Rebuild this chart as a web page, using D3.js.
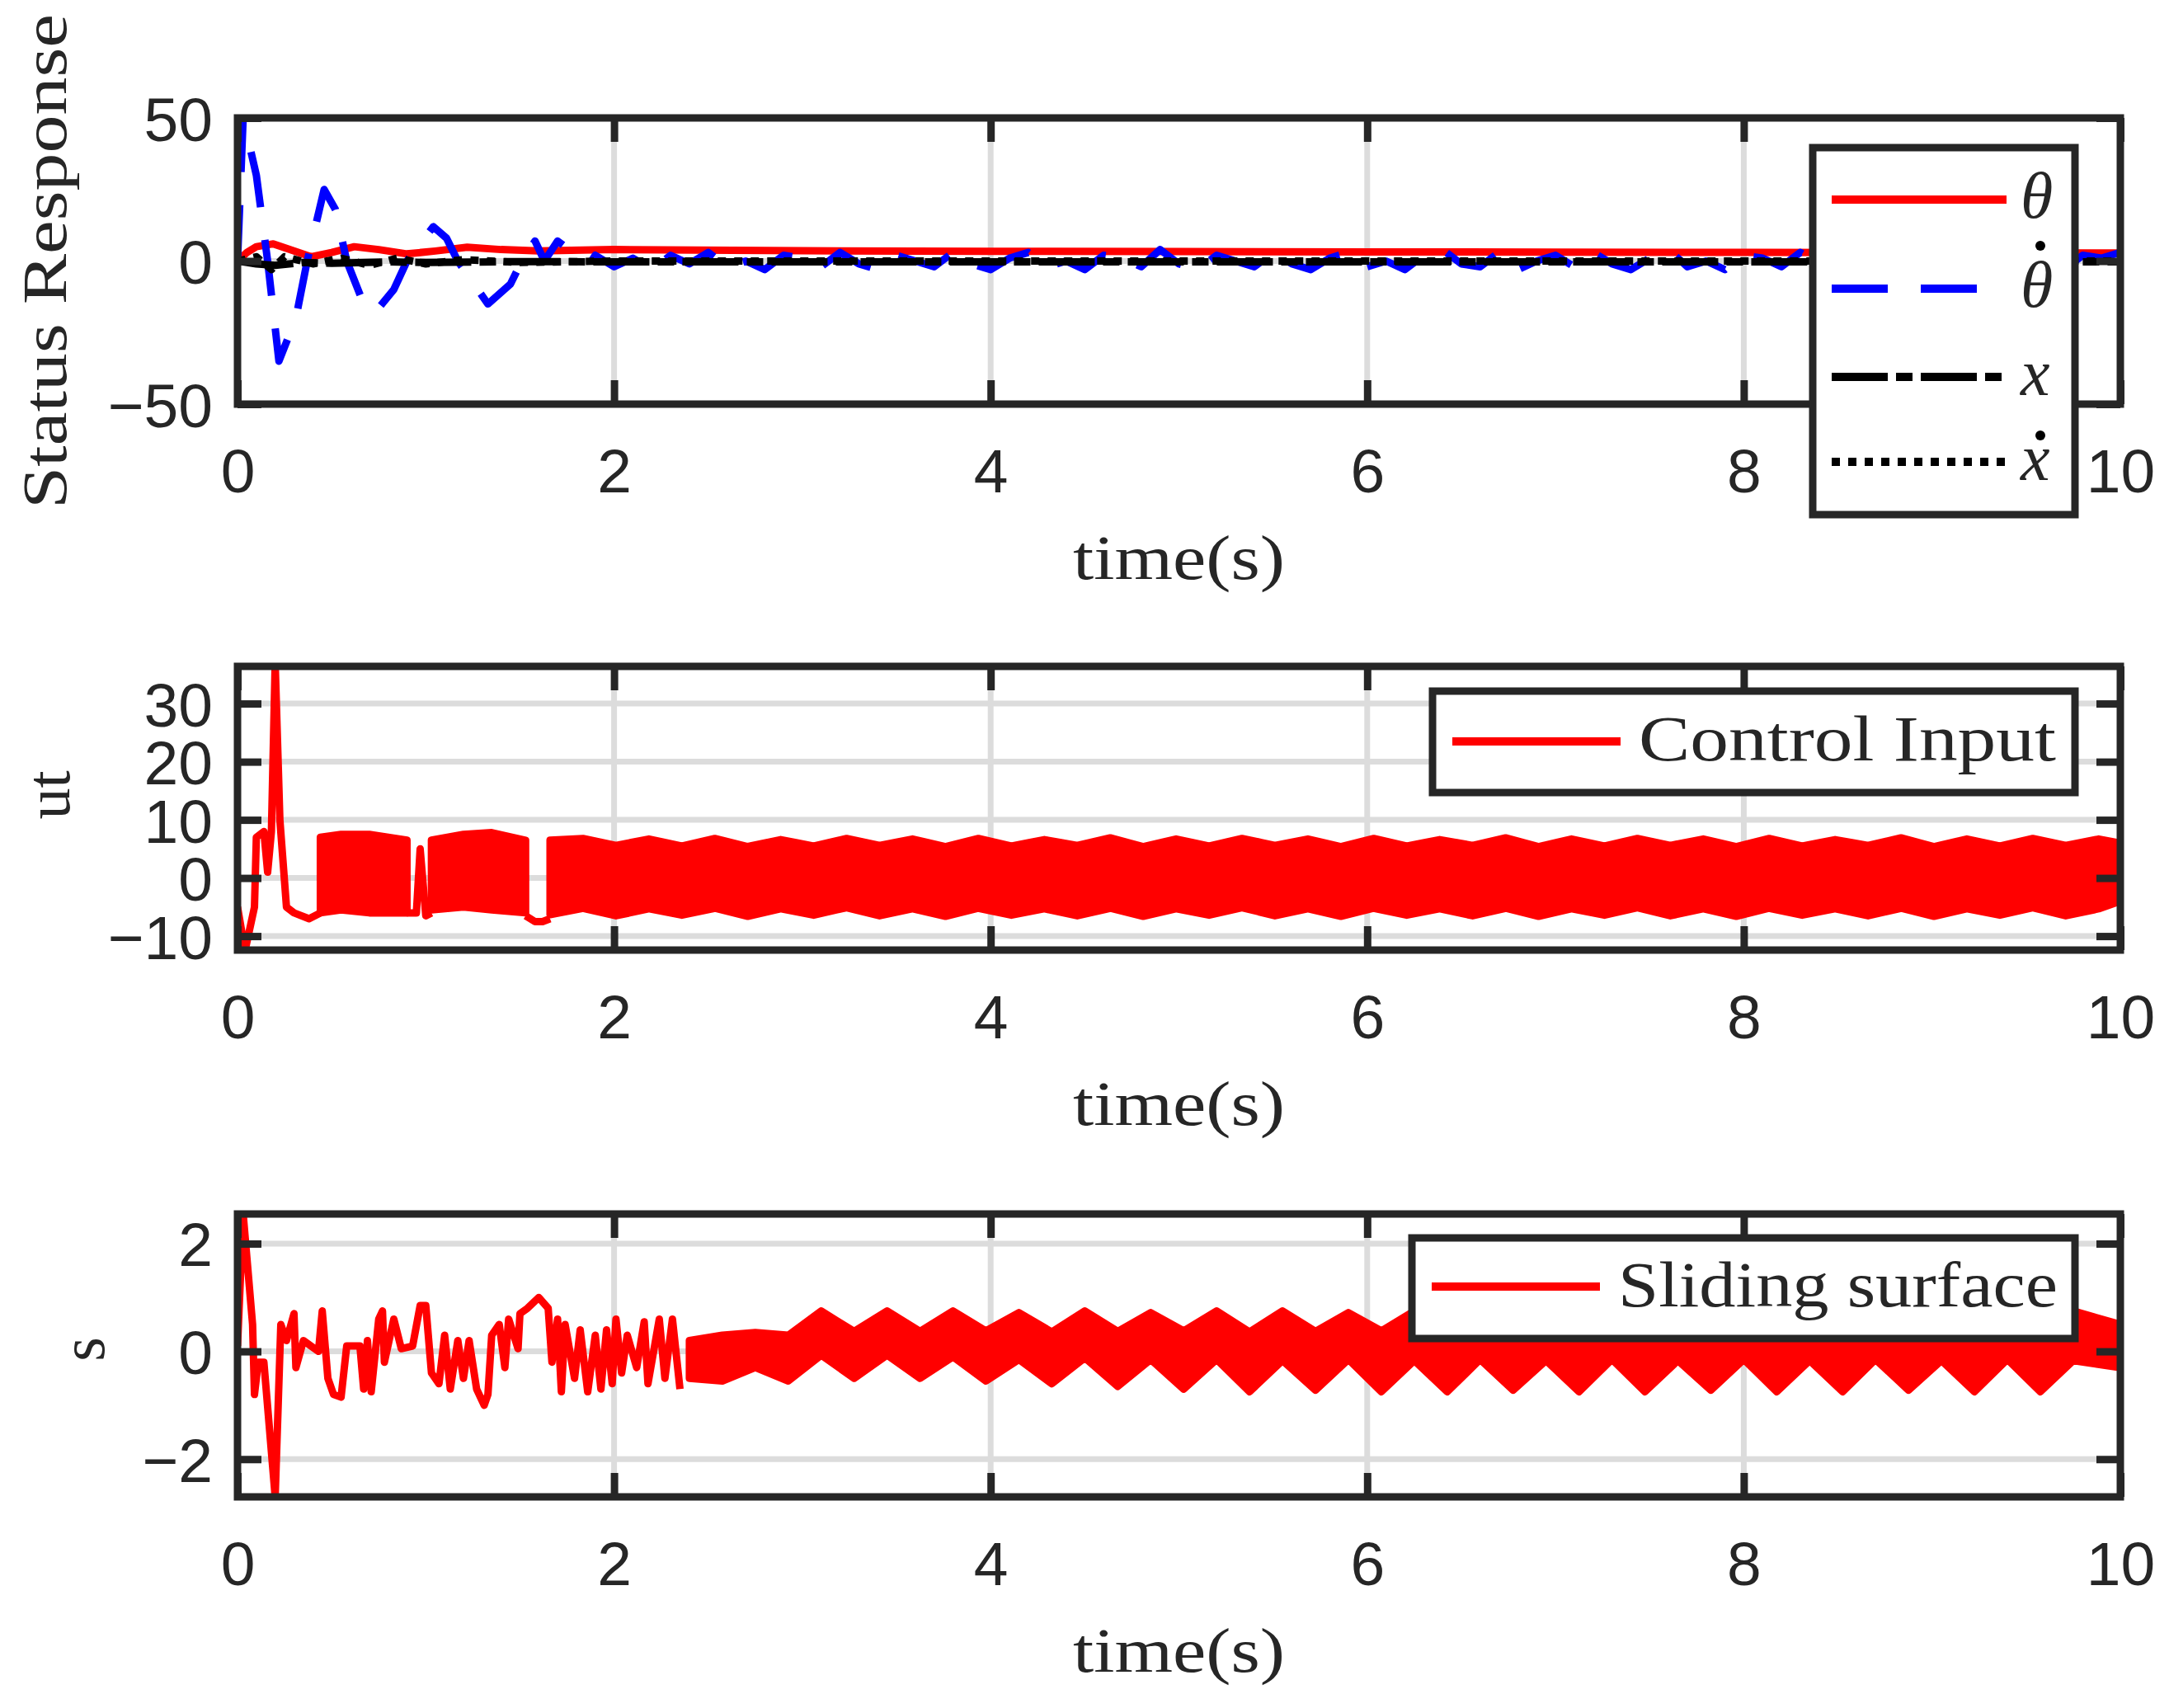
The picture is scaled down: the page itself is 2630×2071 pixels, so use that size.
<!DOCTYPE html>
<html>
<head>
<meta charset="utf-8">
<script src="https://cdn.jsdelivr.net/npm/d3@7"></script>
<style>
  body { margin: 0; background: #fff; }
  .tick text { font-family: "Liberation Sans", Arial, sans-serif; font-size: 75px; fill: #262626; }
  .lab { font-family: "Liberation Serif", "DejaVu Serif", serif; fill: #262626; }
</style>
</head>
<body>
<svg width="2630" height="2071"></svg>
<script>
// ---- data ----
var xTicks = [0, 2, 4, 6, 8, 10];

// panel 1: state response
var thetaT = [0, 0.05, 0.1, 0.19, 0.3, 0.39, 0.5, 0.62, 0.75, 0.9, 1.05, 1.22, 1.4, 1.6, 2, 3, 4, 5, 6, 7, 8, 9, 10];
var thetaV = [0, 3, 5, 6, 3.5, 1.5, 3, 5, 4, 2.5, 3.5, 4.8, 4, 3.5, 4, 3.6, 3.4, 3.3, 3.2, 3.1, 3, 2.9, 2.8];

var thdT = [0, 0.03, 0.1, 0.16, 0.22, 0.31, 0.37, 0.46, 0.52, 0.58, 0.67, 0.73, 0.83, 0.9, 1.04, 1.11, 1.17, 1.33, 1.45, 1.51, 1.58, 1.63, 1.7, 1.78, 1.88];
var thdV = [0, 50, 30, 0, -35, -20, 0, 25, 18, 0, -15, -18, -10, 0, 12, 8, 0, -15, -8, 0, 7, 0, 7, 3, 0];
// jitter after ~1.9 s, every 0.1 s from 1.9 to 10
var thdNoise = [2, -2, 1, -3, 2, -1, 3, -2, 0, -3, 2, 1, -2, 3, -1, -3, 2, 0, -2, 3,
                -1, -3, 1, 3, -2, 0, -3, 2, 1, -2, 4, -1, -3, 2, 0, -2, 3, -1, -3, 1,
                3, -2, 0, -3, 2, 4, -1, -2, 3, -3, 0, 2, -2, 3, -1, -3, 1, 4, -2, 0,
                -3, 2, 1, -2, 3, -1, -3, 2, 0, -2, 3, 1, -3, 2, -1, -2, 3, 0, -3, 2, 1, 3];

var xT = [0, 0.1, 0.2, 0.35, 0.5, 0.8, 1.0, 1.5, 2, 10];
var xV = [0, -1, -1.5, -0.5, -0.8, -0.3, -0.5, -0.2, -0.3, -0.3];
var xdT = [0, 0.1, 0.18, 0.25, 0.4, 0.55, 0.7, 0.85, 1.0, 1.2, 1.5, 2, 10];
var xdV = [0, 1.5, -3, 1.5, -1, 1, -1.5, 1, -1, 0.5, -0.5, 0, 0];

// panel 2: control input
var utT = [0, 0.04, 0.09, 0.1, 0.12, 0.14, 0.16, 0.18, 0.2, 0.225, 0.26, 0.3, 0.38, 0.44];
var utV = [-5, -12.5, -5, 7, 7.5, 8, 1, 8, 37, 10, -5, -6, -7, -6];
var utMidT = [0.9, 0.92, 0.95, 0.97, 1.0, 1.03];
var utMidV = [-6, -6, -6, 5, -6.5, -6];
var utTailT = [1.53, 1.58, 1.62, 1.66];
var utTailV = [-6.5, -7.5, -7.5, -7];
// switching bands (upper / lower edge)
var utBand1T = [0.44, 0.55, 0.7, 0.9];
var utBand1Hi = [7, 7.5, 7.5, 6.5];
var utBand1Lo = [-6, -5.5, -6, -6];
var utBand2T = [1.03, 1.2, 1.35, 1.53];
var utBand2Hi = [6.5, 7.5, 7.8, 6.5];
var utBand2Lo = [-5.5, -5, -5.5, -6];
var utBandT = d3.range(1.66, 9.9, 0.175).concat([10]);
var utBandHi = [6.5, 6.8, 5.6, 6.7, 5.5, 6.8, 5.4, 6.6, 5.5, 6.8, 5.6, 6.7, 5.4, 6.8, 5.5, 6.6,
                5.6, 6.9, 5.4, 6.7, 5.5, 6.8, 5.6, 6.7, 5.4, 6.8, 5.5, 6.6, 5.6, 6.9, 5.4, 6.7,
                5.5, 6.8, 5.6, 6.7, 5.4, 6.8, 5.5, 6.6, 5.6, 6.9, 5.4, 6.7, 5.5, 6.8, 5.6, 6.7, 6.0];
var utBandLo = [-6.3, -5.2, -6.5, -5.3, -6.4, -5.2, -6.6, -5.3, -6.4, -5.1, -6.5, -5.3, -6.6, -5.2, -6.4, -5.3,
                -6.5, -5.2, -6.6, -5.3, -6.4, -5.1, -6.5, -5.3, -6.6, -5.2, -6.4, -5.3, -6.5, -5.2, -6.6, -5.3,
                -6.4, -5.1, -6.5, -5.3, -6.6, -5.2, -6.4, -5.3, -6.5, -5.2, -6.6, -5.3, -6.4, -5.1, -6.5, -5.3, -4.0];

// panel 3: sliding surface
var sT = [0, 0.03, 0.08, 0.09, 0.11, 0.14, 0.2, 0.23, 0.26, 0.3, 0.31, 0.35, 0.43, 0.45, 0.48, 0.51, 0.55,
          0.58, 0.65, 0.67, 0.69, 0.71, 0.75, 0.77, 0.78, 0.83, 0.87, 0.93, 0.97, 1.0, 1.03, 1.07, 1.1,
          1.13, 1.17, 1.2, 1.23, 1.27, 1.31, 1.33, 1.35, 1.39, 1.42, 1.44, 1.49, 1.5, 1.54, 1.6, 1.65,
          1.67, 1.7, 1.72, 1.74, 1.79, 1.82, 1.86, 1.9, 1.93, 1.96, 1.99, 2.01, 2.04, 2.07, 2.12, 2.16,
          2.18, 2.24, 2.27, 2.31, 2.35];
var sV = [0.1, 2.55, 0.5, -0.8, -0.2, -0.2, -2.7, 0.5, 0.2, 0.7, -0.3, 0.2, 0, 0.75, -0.5, -0.8, -0.85,
          0.1, 0.1, -0.7, 0.2, -0.75, 0.6, 0.75, -0.2, 0.6, 0.05, 0.1, 0.85, 0.85, -0.4, -0.6, 0.3,
          -0.7, 0.2, -0.5, 0.2, -0.7, -1.0, -0.8, 0.3, 0.5, -0.3, 0.6, 0.05, 0.7, 0.8, 1.0, 0.8,
          -0.2, 0.6, -0.75, 0.5, -0.5, 0.4, -0.75, 0.3, -0.7, 0.4, -0.6, 0.6, -0.4, 0.3, -0.3, 0.55,
          -0.6, 0.6, -0.5, 0.6, -0.7];
var sBandT = d3.range(2.4, 9.9, 0.175).concat([10]);
var sBandHi = [0.2, 0.3, 0.35, 0.3, 0.75, 0.37, 0.75, 0.37, 0.75, 0.38, 0.72, 0.36, 0.75, 0.37, 0.72, 0.38,
               0.75, 0.36, 0.75, 0.37, 0.72, 0.38, 0.75, 0.36, 0.72, 0.37, 0.75, 0.38, 0.75, 0.36, 0.72, 0.37,
               0.75, 0.38, 0.72, 0.36, 0.75, 0.37, 0.75, 0.38, 0.72, 0.36, 0.75, 0.5];
var sBandLo = [-0.5, -0.55, -0.3, -0.55, -0.07, -0.5, -0.07, -0.5, -0.1, -0.55, -0.15, -0.6, -0.12, -0.65, -0.15, -0.7,
               -0.15, -0.75, -0.17, -0.72, -0.15, -0.75, -0.17, -0.75, -0.15, -0.72, -0.17, -0.75, -0.15, -0.75, -0.17, -0.72,
               -0.15, -0.75, -0.17, -0.75, -0.15, -0.72, -0.17, -0.75, -0.15, -0.75, -0.17, -0.3];

// ---- layout ----
var svg = d3.select("svg");
var L = 288, R = 2571;
var ink = "#262626";
var x = d3.scaleLinear().domain([0, 10]).range([L, R]);
var fmt = function(d) { return String(d).replace("-", "\u2212"); };

function panel(top, bottom, ydom, yticks, id) {
  var y = d3.scaleLinear().domain(ydom).range([bottom, top]);
  var g = svg.append("g");
  // grid
  g.append("g").selectAll("line").data(xTicks.slice(1, -1)).enter().append("line")
    .attr("x1", x).attr("x2", x).attr("y1", top).attr("y2", bottom)
    .attr("stroke", "#dcdcdc").attr("stroke-width", 7);
  g.append("g").selectAll("line").data(yticks).enter().append("line")
    .attr("x1", L).attr("x2", R).attr("y1", y).attr("y2", y)
    .attr("stroke", "#dcdcdc").attr("stroke-width", 7);
  svg.append("clipPath").attr("id", id).append("rect")
    .attr("x", L).attr("y", top).attr("width", R - L).attr("height", bottom - top);
  var data = g.append("g").attr("clip-path", "url(#" + id + ")");
  return { y: y, g: g, data: data, top: top, bottom: bottom, yticks: yticks };
}

function frame(p) {
  var g = svg.append("g");
  g.append("g").attr("transform", "translate(0," + p.bottom + ")")
    .call(d3.axisBottom(x).tickValues(xTicks).tickSize(-29).tickPadding(80).tickFormat(fmt));
  g.append("g").attr("transform", "translate(0," + p.top + ")")
    .call(d3.axisTop(x).tickValues(xTicks).tickSize(-29).tickFormat(""));
  g.append("g").attr("transform", "translate(" + L + ",0)")
    .call(d3.axisLeft(p.y).tickValues(p.yticks).tickSize(-29).tickPadding(30).tickFormat(fmt));
  g.append("g").attr("transform", "translate(" + R + ",0)")
    .call(d3.axisRight(p.y).tickValues(p.yticks).tickSize(-29).tickFormat(""));
  g.selectAll(".domain").remove();
  g.selectAll(".tick line").attr("stroke", ink).attr("stroke-width", 9);
  g.selectAll(".tick text").attr("dy", "0.36em");
  g.append("rect").attr("x", L).attr("y", p.top).attr("width", R - L).attr("height", p.bottom - p.top)
    .attr("fill", "none").attr("stroke", ink).attr("stroke-width", 9);
  svg.append("text").attr("class", "lab").attr("x", (L + R) / 2).attr("y", p.bottom + 212)
    .attr("text-anchor", "middle").attr("font-size", 76)
    .attr("textLength", 257).attr("lengthAdjust", "spacingAndGlyphs").text("time(s)");
}

function zip(t, v) { return t.map(function(d, i) { return [d, v[i]]; }); }
function lineIn(p, pts, color, dash) {
  var ln = d3.line().x(function(d) { return x(d[0]); }).y(function(d) { return p.y(d[1]); });
  p.data.append("path").attr("d", ln(pts)).attr("fill", "none").attr("stroke", color)
    .attr("stroke-width", 9).attr("stroke-linejoin", "round")
    .attr("stroke-dasharray", dash || null);
}
function bandIn(p, t, hi, lo, color) {
  var ar = d3.area().x(function(d) { return x(d[0]); })
    .y0(function(d) { return p.y(d[2]); }).y1(function(d) { return p.y(d[1]); });
  var pts = t.map(function(d, i) { return [d, hi[i], lo[i]]; });
  p.data.append("path").attr("d", ar(pts)).attr("fill", color)
    .attr("stroke", color).attr("stroke-width", 9).attr("stroke-linejoin", "round");
}

// ---- panel 1 ----
var p1 = panel(143, 490, [-50, 50], [-50, 0, 50], "c1");
var thdAll = zip(thdT, thdV).concat(thdNoise.map(function(v, i) { return [1.9 + i * 0.1, v]; }));
lineIn(p1, zip(thetaT, thetaV), "#ff0000");
lineIn(p1, thdAll, "#0000ff", "68,40");
lineIn(p1, zip(xT, xV), "#000000", "68,10,20,10");
lineIn(p1, zip(xdT, xdV), "#000000", "10,10");
frame(p1);

// ---- panel 2 ----
var p2 = panel(808, 1152, [-12.4, 36.4], [-10, 0, 10, 20, 30], "c2");
lineIn(p2, zip(utT, utV), "#ff0000");
bandIn(p2, utBand1T, utBand1Hi, utBand1Lo, "#ff0000");
lineIn(p2, zip(utMidT, utMidV), "#ff0000");
bandIn(p2, utBand2T, utBand2Hi, utBand2Lo, "#ff0000");
lineIn(p2, zip(utTailT, utTailV), "#ff0000");
bandIn(p2, utBandT, utBandHi, utBandLo, "#ff0000");
frame(p2);

// ---- panel 3 ----
var p3 = panel(1472, 1815, [-2.7, 2.55], [-2, 0, 2], "c3");
lineIn(p3, zip(sT, sV), "#ff0000");
bandIn(p3, sBandT, sBandHi, sBandLo, "#ff0000");
frame(p3);

// ---- y labels ----
function ylab(txt, cx, cy, len) {
  var t = svg.append("text").attr("class", "lab").attr("font-size", 76)
    .attr("text-anchor", "middle").attr("transform", "translate(" + cx + "," + cy + ") rotate(-90)").text(txt);
  if (len) t.attr("textLength", len).attr("lengthAdjust", "spacingAndGlyphs");
}
ylab("Status Response", 80, 317, 600);
ylab("ut", 84, 964);
ylab("s", 126, 1636);

// ---- legends ----
function legBox(x0, y0, x1, y1) {
  svg.append("rect").attr("x", x0).attr("y", y0).attr("width", x1 - x0).attr("height", y1 - y0)
    .attr("fill", "#fff").attr("stroke", ink).attr("stroke-width", 9);
}
function legLine(x0, x1, yy, color, dash) {
  svg.append("line").attr("x1", x0).attr("x2", x1).attr("y1", yy).attr("y2", yy)
    .attr("stroke", color).attr("stroke-width", 10).attr("stroke-dasharray", dash || null);
}
legBox(2198, 179, 2516, 624);
var legRows = [
  { y: 242, c: "#ff0000", d: null, s: "\u03b8", dot: 0 },
  { y: 350, c: "#0000ff", d: "68,40", s: "\u03b8", dot: 52 },
  { y: 457, c: "#000000", d: "68,10,20,10", s: "x", dot: 0 },
  { y: 560, c: "#000000", d: "10,10", s: "x", dot: 32 }
];
legRows.forEach(function(r) {
  legLine(2221, 2433, r.y, r.c, r.d);
  svg.append("text").attr("class", "lab").attr("x", 2450).attr("y", r.y + 22)
    .attr("font-size", 80).attr("font-style", "italic").text(r.s);
  if (r.dot) {
    svg.append("circle").attr("cx", 2474).attr("cy", r.y - r.dot).attr("r", 6).attr("fill", "#000");
  }
});

legBox(1737, 838, 2516, 961);
legLine(1761, 1965, 899, "#ff0000");
svg.append("text").attr("class", "lab").attr("x", 1987).attr("y", 922).attr("font-size", 78)
  .attr("textLength", 506).attr("lengthAdjust", "spacingAndGlyphs").text("Control Input");

legBox(1712, 1501, 2516, 1623);
legLine(1736, 1940, 1560, "#ff0000");
svg.append("text").attr("class", "lab").attr("x", 1962).attr("y", 1584).attr("font-size", 78)
  .attr("textLength", 533).attr("lengthAdjust", "spacingAndGlyphs").text("Sliding surface");
</script>
</body>
</html>
